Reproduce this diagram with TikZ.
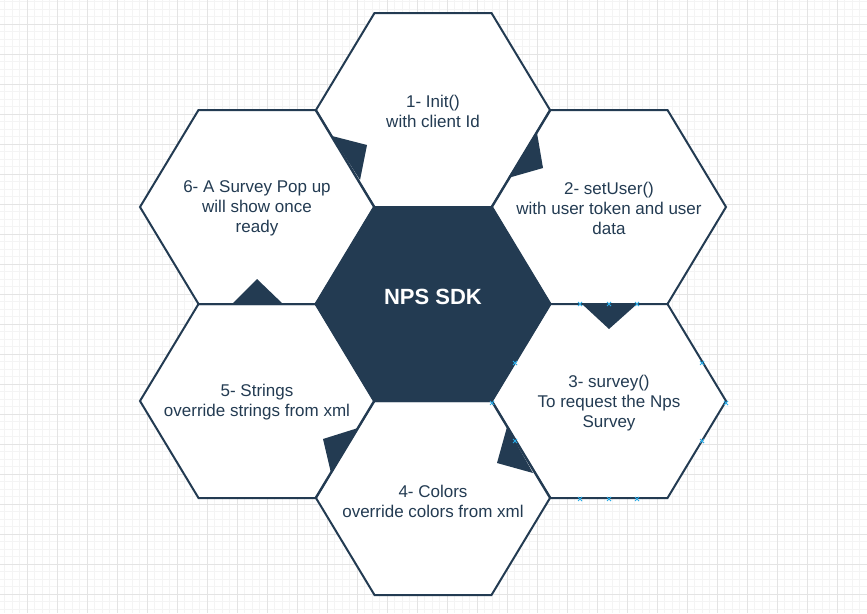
\documentclass[tikz,border=0pt]{standalone}
\usepackage{fontspec}
\setmainfont{Liberation Sans}
\usepackage{tikz}
\usepackage{xcolor}
\definecolor{navy}{RGB}{35,59,82}
\definecolor{gridmajor}{RGB}{228,228,228}
\definecolor{gridminor}{RGB}{244,244,244}
\definecolor{handleblue}{RGB}{40,170,230}
% one hexagon, started from its centre
\newcommand{\hexpath}{++(-117,0) -- ++(58.5,-97) -- ++(117,0) -- ++(58.5,97) -- ++(-58.5,97) -- ++(-117,0) -- cycle}

\begin{document}
\begin{tikzpicture}[x=1pt,y=-1pt,
  hexcell/.style={draw=navy,line width=2pt,fill=white,line join=miter},
  hextext/.style={text=navy,align=center,font=\fontsize{17}{20}\selectfont},
  handle/.style={draw=handleblue,line width=0.8pt}]
  \useasboundingbox (0,0) rectangle (867,613);
  \fill[white] (0,0) rectangle (867,613);
  % grid paper
  \begin{scope}
    \clip (0,0) rectangle (867,613);
    \foreach \k in {0,...,117} \draw[gridminor,line width=0.8pt] ({-3+7.5*\k},0) -- ++(0,613);
    \foreach \k in {0,...,83} \draw[gridminor,line width=0.8pt] (0,{-6+7.5*\k}) -- ++(867,0);
    \foreach \k in {0,...,30} \draw[gridmajor,line width=1pt] ({-3+30*\k},0) -- ++(0,613);
    \foreach \k in {0,...,21} \draw[gridmajor,line width=1pt] (0,{-6+30*\k}) -- ++(867,0);
  \end{scope}
  % outer cells
  \draw[hexcell] (433,110) \hexpath;
  \draw[hexcell] (609,207) \hexpath;
  \draw[hexcell] (609,401) \hexpath;
  \draw[hexcell] (433,498) \hexpath;
  \draw[hexcell] (257,401) \hexpath;
  \draw[hexcell] (257,207) \hexpath;
  % centre cell
  \draw[hexcell,fill=navy] (433,304) \hexpath;
  % arrow heads round the ring
  \fill[navy] (332,136) -- (367,145) -- (360,180) -- cycle; % 6 -> 1
  \fill[navy] (537,133) -- (543,168) -- (508,178) -- cycle; % 1 -> 2
  \fill[navy] (582,304) -- (637,304) -- (609,329) -- cycle; % 2 -> 3
  \fill[navy] (507,427) -- (533,473) -- (497,463) -- cycle; % 3 -> 4
  \fill[navy] (358,428) -- (331,473) -- (323,439) -- cycle; % 4 -> 5
  \fill[navy] (232,304) -- (283,304) -- (257,279) -- cycle; % 5 -> 6
  % selection handles of cell 3
  \foreach \x/\y in {580/304,609/304,637/304,515/363,702/363,492/403,726/403,515/441,702/441,580/499,609/499,637/499}
    \draw[handle] (\x-2,\y-2) -- (\x+2,\y+2) (\x-2,\y+2) -- (\x+2,\y-2);
  \node[text=white,font=\bfseries\fontsize{22}{26}\selectfont] (sdk) at (433,297) {NPS SDK};
  \node[hextext] (init) at (433,111) {1- Init()\\with client Id};
  \node[hextext] (setuser) at (609,208) {2- setUser()\\with user token and user\\data};
  \node[hextext] (survey) at (609,403) {3- survey()\\To request the Nps\\Survey};
  \node[hextext] (colors) at (433,501) {4- Colors\\override colors from xml};
  \node[hextext] (strings) at (257,402) {5- Strings\\override strings from xml};
  \node[hextext] (popup) at (257,208) {6- A Survey Pop up\\will show once\\ready};
\end{tikzpicture}
\end{document}
